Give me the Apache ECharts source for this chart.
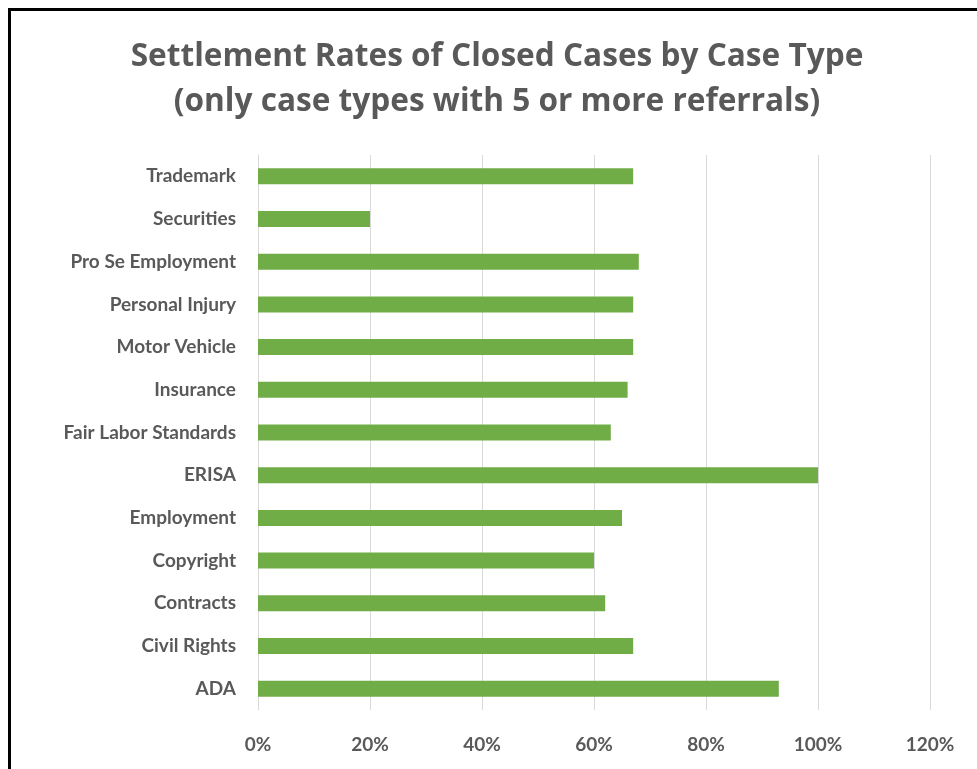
<!DOCTYPE html>
<html>
<head>
<meta charset="utf-8">
<script src="https://cdn.jsdelivr.net/npm/echarts@6/dist/echarts.min.js"></script>
<style>
html,body{margin:0;padding:0;background:#fff;}
#frame{position:absolute;left:8px;top:8px;width:1000px;height:800px;border-left:3px solid #000;border-top:3px solid #000;box-sizing:border-box;}
#chart{position:absolute;left:0;top:0;width:977px;height:769px;}
</style>
</head>
<body>
<div id="frame"></div>
<div id="chart"></div>
<script>
const titleLines = ['Settlement Rates of Closed Cases by Case Type', '(only case types with 5 or more referrals)'];
const categories = ['ADA', 'Civil Rights', 'Contracts', 'Copyright', 'Employment', 'ERISA', 'Fair Labor Standards', 'Insurance', 'Motor Vehicle', 'Personal Injury', 'Pro Se Employment', 'Securities', 'Trademark'];
const settlementRates = [0.93, 0.67, 0.62, 0.60, 0.65, 1.00, 0.63, 0.66, 0.67, 0.67, 0.68, 0.20, 0.67];
const xTicks = {min: 0, max: 1.2, interval: 0.2};

const chart = echarts.init(document.getElementById('chart'));
chart.setOption({
  animation: false,
  title: {
    text: titleLines.join('\n'),
    left: 492, top: 29, textAlign: 'center',
    textStyle: {fontFamily: 'Open Sans', fontWeight: 'bold', fontSize: 31.6, color: '#595959', lineHeight: 45}
  },
  grid: {left: 258, right: 47, top: 155, bottom: 59, containLabel: false},
  xAxis: {
    type: 'value', min: xTicks.min, max: xTicks.max, interval: xTicks.interval,
    axisLine: {show: false}, axisTick: {show: false},
    splitLine: {lineStyle: {color: '#d9d9d9', width: 1}},
    axisLabel: {
      formatter: v => Math.round(v * 100) + '%',
      fontFamily: 'Lato', fontWeight: 'bold', fontSize: 19, color: '#595959', margin: 25
    }
  },
  yAxis: {
    type: 'category', data: categories,
    axisLine: {show: true, lineStyle: {color: '#d9d9d9'}}, axisTick: {show: false},
    axisLabel: {fontFamily: 'Lato', fontWeight: 'bold', fontSize: 19, color: '#595959', margin: 22}
  },
  series: [{
    type: 'bar', data: settlementRates, barWidth: 16,
    itemStyle: {color: '#70ad47'}
  }]
});
</script>
</body>
</html>
